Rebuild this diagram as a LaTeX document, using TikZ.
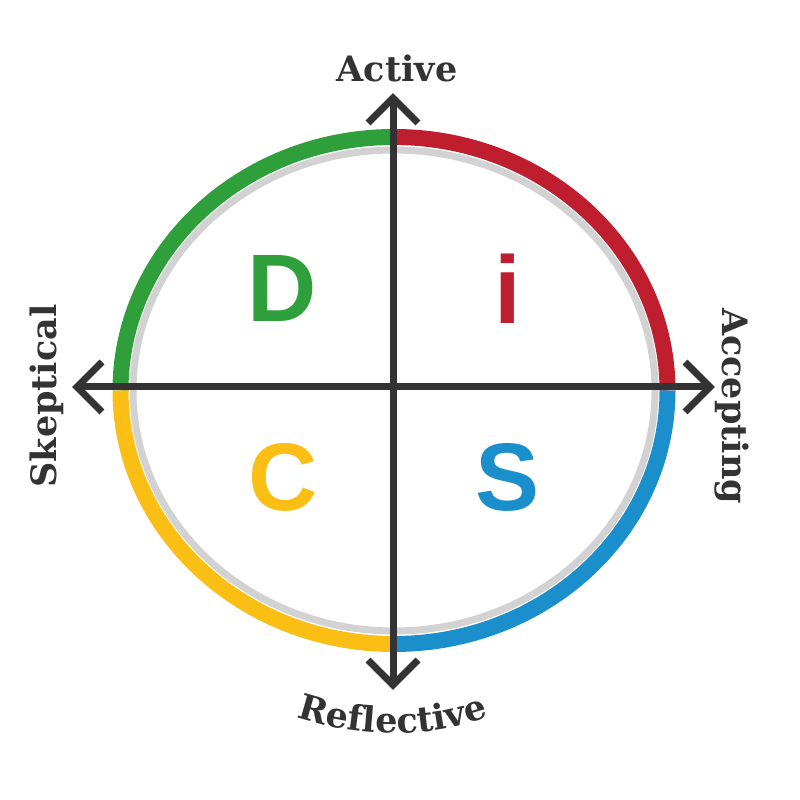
\documentclass[tikz,border=0pt]{standalone}
\usepackage{fontspec}
\setmainfont{DejaVu Serif}
\newfontfamily\discfont{Liberation Sans}
\usetikzlibrary{decorations.text}
\definecolor{dgreen}{HTML}{2E9F3A}
\definecolor{ired}{HTML}{BE1E2D}
\definecolor{syellow}{HTML}{FBBE14}
\definecolor{cblue}{HTML}{1A8FCC}
\definecolor{axisgray}{HTML}{333333}
\definecolor{ringgray}{HTML}{D2D2D2}
\newcommand{\axlabel}{\fontsize{35}{35}\selectfont\bfseries}
\begin{document}
\begin{tikzpicture}[x=1pt,y=1pt,
  ring/.style={line width=16pt, line cap=butt},
  shadowring/.style={line width=7pt, ringgray},
  axisline/.style={line width=7pt, axisgray, line join=miter},
  chevron/.style={line width=7pt, axisgray, line join=miter, line cap=butt},
  letter/.style={font=\discfont\fontsize{96}{96}\selectfont\bfseries, anchor=base, inner sep=0pt},
  axlab/.style={font=\axlabel, text=axisgray, anchor=base, inner sep=0pt}]
\useasboundingbox (0,0) rectangle (800,800);
\coordinate (O) at (394,409.5);
% gray inner ring
\draw[shadowring] (O) ellipse [x radius=261, y radius=240.5];
% coloured quadrants
\draw[ring, ired]    ([shift={(0:273.5 and 253.5)}]O) arc [start angle=0, end angle=90, x radius=273.5, y radius=253.5];
\draw[ring, dgreen]  ([shift={(90:273.5 and 253.5)}]O) arc [start angle=90, end angle=180, x radius=273.5, y radius=253.5];
\draw[ring, syellow] ([shift={(180:273.5 and 253.5)}]O) arc [start angle=180, end angle=270, x radius=273.5, y radius=253.5];
\draw[ring, cblue]   ([shift={(270:273.5 and 253.5)}]O) arc [start angle=270, end angle=360, x radius=273.5, y radius=253.5];
% axes
\coordinate (top) at (393,702);
\coordinate (bot) at (393,115);
\coordinate (lft) at (77,413);
\coordinate (rgt) at (710,413);
\draw[axisline] (top) -- (bot);
\draw[axisline] (lft) -- (rgt);
\draw[chevron] ([shift={(-25,-25)}]top) -- (top) -- ([shift={(25,-25)}]top);
\draw[chevron] ([shift={(-25,25)}]bot) -- (bot) -- ([shift={(25,25)}]bot);
\draw[chevron] ([shift={(25,25)}]lft) -- (lft) -- ([shift={(25,-25)}]lft);
\draw[chevron] ([shift={(-25,25)}]rgt) -- (rgt) -- ([shift={(-25,-25)}]rgt);
% DiSC letters
\node[letter, text=dgreen]  (D) at (282,478) {D};
\node[letter, text=ired]    (i) at (508,476) {i};
\node[letter, text=syellow] (C) at (283,289) {C};
\node[letter, text=cblue]   (S) at (508,289) {S};
% axis labels
\node[axlab] (active) at (397,718) {Active};
\node[axlab, rotate=90] (skeptical) at (56,404) {Skeptical};
\node[axlab, rotate=-90] (accepting) at (722,394) {Accepting};
\path[decorate, decoration={text along path, text={|\axlabel\color{axisgray}|Reflective}, text align=center}]
  (393,367) ++(238:300) arc [start angle=238, end angle=302, radius=300];
\end{tikzpicture}
\end{document}
